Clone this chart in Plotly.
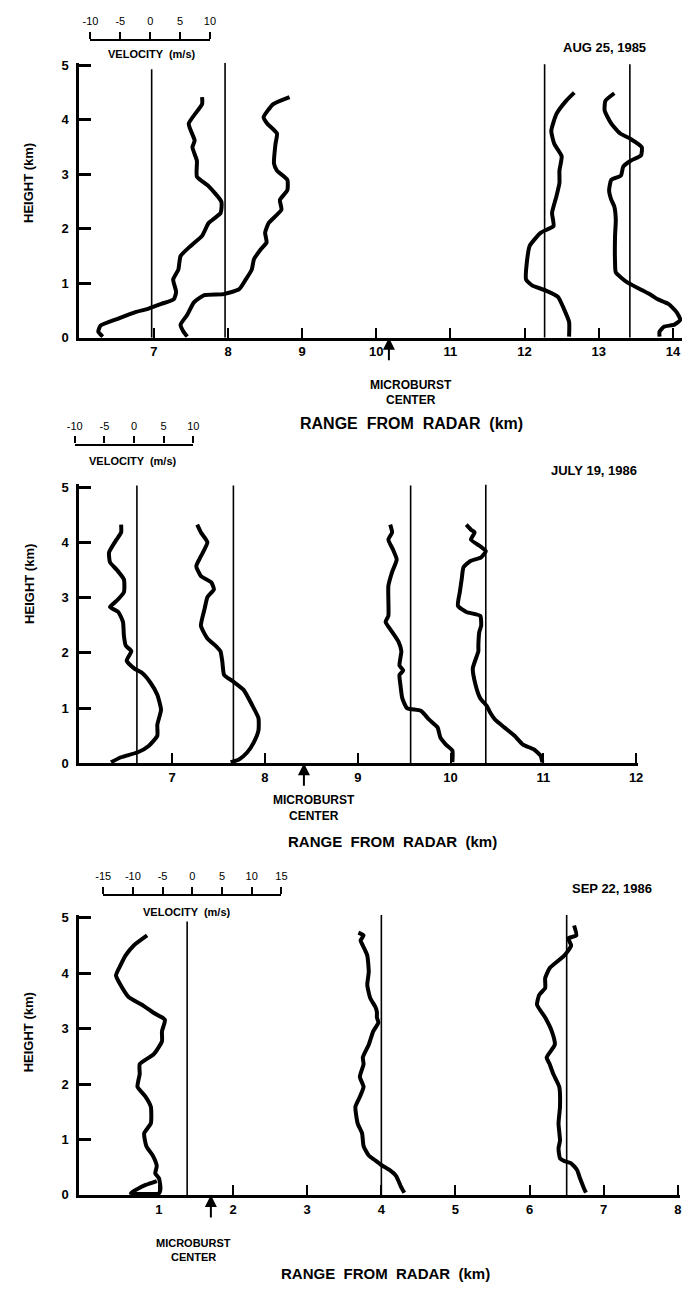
import plotly.graph_objects as go

# The page body keeps the browser's default 8 px margin, so the figure is
# drawn 8 px in from the top-left corner of the window.
OFF = 8
W, H = 690 - OFF, 1292 - OFF

# ---------------- DATA ----------------
# Panel 1: AUG 25, 1985  (range from radar in km, height in km)
p1_date = "AUG 25, 1985"
p1_xticks = [7, 8, 9, 10, 11, 12, 13, 14]
p1_yticks = [0, 1, 2, 3, 4, 5]
p1_vel_ticks = [-10, -5, 0, 5, 10]
p1_refs = [6.97, 7.96, 12.27, 13.42]
p1_ref_tops = [4.93, 5.05, 5.02, 5.02]
p1_center = 10.17

p1_h_a = [4.42, 4.29, 3.93, 3.62, 3.50, 3.25, 2.96, 2.78, 2.50, 2.29, 2.11, 1.87, 1.69, 1.50, 1.25, 1.07, 0.84, 0.71, 0.62, 0.53, 0.47, 0.35, 0.22, 0.11, 0.02]
p1_r_a = [7.65, 7.65, 7.47, 7.55, 7.52, 7.58, 7.58, 7.74, 7.91, 7.90, 7.74, 7.65, 7.50, 7.36, 7.33, 7.26, 7.30, 7.27, 7.10, 6.92, 6.75, 6.52, 6.28, 6.25, 6.31]
p1_h_b = [4.42, 4.29, 4.05, 3.93, 3.75, 3.56, 3.20, 3.07, 2.90, 2.71, 2.53, 2.35, 2.11, 1.93, 1.75, 1.62, 1.44, 1.25, 1.07, 0.89, 0.80, 0.78, 0.65, 0.42, 0.24, 0.11, 0.02]
p1_r_b = [8.83, 8.61, 8.48, 8.53, 8.66, 8.64, 8.62, 8.66, 8.80, 8.80, 8.70, 8.72, 8.55, 8.50, 8.52, 8.44, 8.35, 8.32, 8.24, 8.15, 7.94, 7.68, 7.54, 7.45, 7.36, 7.40, 7.45]
p1_h_c = [4.50, 4.35, 4.11, 3.80, 3.56, 3.33, 3.07, 2.84, 2.60, 2.29, 2.05, 1.93, 1.69, 1.38, 1.07, 0.96, 0.87, 0.75, 0.53, 0.29, 0.02]
p1_r_c = [12.67, 12.56, 12.43, 12.36, 12.40, 12.50, 12.47, 12.47, 12.43, 12.37, 12.39, 12.22, 12.07, 12.03, 12.02, 12.10, 12.28, 12.45, 12.53, 12.60, 12.60]
p1_h_d = [4.49, 4.35, 4.17, 3.93, 3.75, 3.65, 3.50, 3.35, 3.25, 3.14, 2.98, 2.90, 2.71, 2.53, 2.41, 2.16, 1.87, 1.38, 1.20, 1.02, 0.89, 0.78, 0.71, 0.62, 0.47, 0.33, 0.24, 0.20, 0.11, 0.02]
p1_r_d = [13.21, 13.09, 13.08, 13.17, 13.29, 13.43, 13.58, 13.57, 13.43, 13.33, 13.30, 13.17, 13.14, 13.17, 13.21, 13.23, 13.22, 13.22, 13.23, 13.38, 13.56, 13.71, 13.79, 13.94, 14.05, 14.10, 14.02, 13.88, 13.82, 13.82]

# Panel 2: JULY 19, 1986
p2_date = "JULY 19, 1986"
p2_xticks = [7, 8, 9, 10, 11, 12]
p2_yticks = [0, 1, 2, 3, 4, 5]
p2_vel_ticks = [-10, -5, 0, 5, 10]
p2_refs = [6.62, 7.66, 9.57, 10.38]
p2_ref_tops = [5.03, 5.03, 5.03, 5.05]
p2_center = 8.42

p2_h_a = [4.32, 4.18, 4.05, 3.82, 3.64, 3.51, 3.33, 3.10, 2.94, 2.83, 2.74, 2.56, 2.31, 2.13, 2.03, 1.86, 1.72, 1.63, 1.45, 1.24, 0.97, 0.70, 0.50, 0.32, 0.20, 0.11, 0.02]
p2_r_a = [6.45, 6.45, 6.40, 6.32, 6.33, 6.40, 6.48, 6.48, 6.40, 6.33, 6.42, 6.47, 6.48, 6.50, 6.56, 6.51, 6.59, 6.68, 6.77, 6.84, 6.88, 6.84, 6.84, 6.75, 6.63, 6.45, 6.34]
p2_h_b = [4.32, 4.18, 4.00, 3.75, 3.57, 3.39, 3.28, 3.15, 3.01, 2.80, 2.49, 2.26, 2.11, 2.03, 1.85, 1.60, 1.49, 1.33, 1.06, 0.82, 0.59, 0.38, 0.20, 0.07, 0.02]
p2_r_b = [7.27, 7.31, 7.38, 7.31, 7.26, 7.31, 7.42, 7.45, 7.38, 7.35, 7.31, 7.38, 7.48, 7.52, 7.54, 7.56, 7.65, 7.77, 7.86, 7.93, 7.93, 7.88, 7.81, 7.72, 7.63]
p2_h_c = [4.32, 4.18, 4.05, 3.87, 3.69, 3.46, 3.21, 2.97, 2.67, 2.56, 2.38, 2.20, 2.03, 1.77, 1.68, 1.60, 1.42, 1.18, 1.00, 0.95, 0.79, 0.65, 0.47, 0.34, 0.23, 0.02]
p2_r_c = [9.35, 9.37, 9.33, 9.38, 9.42, 9.37, 9.33, 9.33, 9.33, 9.30, 9.37, 9.44, 9.47, 9.45, 9.49, 9.45, 9.46, 9.48, 9.53, 9.68, 9.77, 9.86, 9.89, 9.95, 10.02, 10.02]
p2_h_d = [4.32, 4.23, 4.18, 4.05, 3.93, 3.84, 3.73, 3.66, 3.55, 3.33, 3.10, 2.85, 2.74, 2.67, 2.49, 2.38, 2.13, 2.03, 1.72, 1.42, 1.18, 1.04, 0.91, 0.79, 0.65, 0.50, 0.34, 0.25, 0.14, 0.02]
p2_r_d = [10.17, 10.22, 10.26, 10.22, 10.32, 10.38, 10.33, 10.21, 10.14, 10.12, 10.10, 10.08, 10.17, 10.32, 10.33, 10.31, 10.30, 10.30, 10.24, 10.27, 10.32, 10.39, 10.43, 10.48, 10.58, 10.69, 10.78, 10.90, 10.97, 10.99]

# Panel 3: SEP 22, 1986
p3_date = "SEP 22, 1986"
p3_xticks = [1, 2, 3, 4, 5, 6, 7, 8]
p3_yticks = [0, 1, 2, 3, 4, 5]
p3_vel_ticks = [-15, -10, -5, 0, 5, 10, 15]
p3_refs = [1.38, 4.00, 6.50]
p3_ref_tops = [4.93, 5.05, 5.05]
p3_center = 1.70

p3_h_a = [4.68, 4.50, 4.32, 4.14, 3.96, 3.79, 3.57, 3.43, 3.29, 3.16, 2.95, 2.77, 2.54, 2.36, 2.18, 1.95, 1.77, 1.59, 1.29, 1.11, 0.88, 0.70, 0.52, 0.39, 0.30, 0.12, 0.03, 0.03, 0.10, 0.18, 0.25]
p3_r_a = [0.84, 0.66, 0.55, 0.48, 0.42, 0.48, 0.59, 0.77, 0.92, 1.08, 1.04, 1.04, 0.93, 0.74, 0.74, 0.71, 0.82, 0.89, 0.89, 0.80, 0.83, 0.92, 0.97, 0.95, 1.00, 1.02, 1.00, 0.62, 0.70, 0.82, 0.97]
p3_h_b = [4.73, 4.68, 4.59, 4.50, 4.32, 4.02, 3.79, 3.55, 3.39, 3.30, 3.20, 3.11, 2.95, 2.71, 2.48, 2.36, 2.13, 1.95, 1.77, 1.59, 1.29, 1.11, 0.88, 0.71, 0.63, 0.54, 0.45, 0.34, 0.16, 0.04]
p3_r_b = [3.69, 3.76, 3.72, 3.75, 3.81, 3.83, 3.81, 3.85, 3.92, 3.94, 3.94, 3.96, 3.89, 3.83, 3.75, 3.76, 3.71, 3.76, 3.71, 3.65, 3.68, 3.74, 3.76, 3.83, 3.91, 4.00, 4.11, 4.20, 4.26, 4.31]
p3_h_c = [4.86, 4.68, 4.63, 4.50, 4.32, 4.23, 4.09, 3.91, 3.73, 3.61, 3.43, 3.20, 2.95, 2.71, 2.48, 2.36, 2.18, 1.95, 1.59, 1.29, 0.98, 0.84, 0.66, 0.61, 0.57, 0.45, 0.30, 0.13, 0.04]
p3_r_c = [6.60, 6.63, 6.52, 6.56, 6.47, 6.39, 6.27, 6.21, 6.21, 6.13, 6.10, 6.21, 6.30, 6.34, 6.23, 6.27, 6.32, 6.40, 6.41, 6.39, 6.41, 6.39, 6.41, 6.47, 6.56, 6.64, 6.68, 6.73, 6.76]

# ---------------- LAYOUT HELPERS ----------------
FONT = "Liberation Sans, Arial, sans-serif"


def fx(p):
    # window pixel -> paper fraction
    return (p - OFF) / W


def fy(p):
    return 1 - (p - OFF) / H


panels = [
    dict(n="", date=p1_date, xticks=p1_xticks, yticks=p1_yticks, vel=p1_vel_ticks,
         refs=p1_refs, tops=p1_ref_tops, center=p1_center,
         profiles=[(p1_r_a, p1_h_a), (p1_r_b, p1_h_b), (p1_r_c, p1_h_c), (p1_r_d, p1_h_d)],
         left=72.7, right=690, bottom=336, pxu=55.0, xrange=[5.995, 14.15],
         vbar=(84, 206, 36), vlabel=(147, 49), datepos=(609, 43),
         hpos=(21, 180), mb=(411, 384, 399), mbsize=12, rpos=(412, 423), rsize=16,
         arrow=24, vn="4"),
    dict(n="2", date=p2_date, xticks=p2_xticks, yticks=p2_yticks, vel=p2_vel_ticks,
         refs=p2_refs, tops=p2_ref_tops, center=p2_center,
         profiles=[(p2_r_a, p2_h_a), (p2_r_b, p2_h_b), (p2_r_c, p2_h_c), (p2_r_d, p2_h_d)],
         left=72.7, right=643, bottom=766, pxu=55.8, xrange=[6.0, 12.02],
         vbar=(68, 189, 445), vlabel=(127, 461), datepos=(598, 470),
         hpos=(21, 585), mb=(312, 803, 819), mbsize=12, rpos=(392, 845), rsize=15,
         arrow=24, vn="5"),
    dict(n="3", date=p3_date, xticks=p3_xticks, yticks=p3_yticks, vel=p3_vel_ticks,
         refs=p3_refs, tops=p3_ref_tops, center=p3_center,
         profiles=[(p3_r_a, p3_h_a), (p3_r_b, p3_h_b), (p3_r_c, p3_h_c)],
         left=72.7, right=686, bottom=1202, pxu=56.0, xrange=[-0.074, 8.03],
         vbar=(97, 279, 900), vlabel=(183, 916), datepos=(617, 892),
         hpos=(21, 1038), mb=(189, 1251, 1265), mbsize=11, rpos=(385, 1281), rsize=15,
         arrow=24, vn="6"),
]

YTOP = 5.05
fig = go.Figure()
annotations = []
layout = {}

bold = dict(family=FONT, color="black", weight="bold")


def label(text, x, y, size, angle=0, weight_bold=True):
    f = dict(size=size, **bold) if weight_bold else dict(size=size, family=FONT, color="black")
    return dict(text=text, x=fx(x), y=fy(y), xref="paper", yref="paper",
                xanchor="center", yanchor="middle", showarrow=False,
                textangle=angle, font=f)


for p in panels:
    xa, ya = "x" + p["n"], "y" + p["n"]
    xk, yk = "xaxis" + p["n"], "yaxis" + p["n"]
    top_px = p["bottom"] - YTOP * p["pxu"]
    layout[xk] = dict(
        domain=[fx(p["left"]), fx(p["right"])], range=p["xrange"], anchor=ya,
        tickvals=p["xticks"], ticks="inside", ticklen=10, tickwidth=1.6,
        tickcolor="black", showline=True, linewidth=3, linecolor="black",
        showgrid=False, zeroline=False, tickfont=dict(size=13, **bold),
        ticklabeloverflow="allow", fixedrange=True,
    )
    layout[yk] = dict(
        domain=[fy(p["bottom"]), fy(top_px)], range=[0, YTOP], anchor=xa,
        tickvals=p["yticks"], ticks="inside", ticklen=12, tickwidth=3,
        tickcolor="black", showline=True, linewidth=3, linecolor="black",
        showgrid=False, zeroline=False, tickfont=dict(size=13, **bold),
        ticklabelstandoff=5, ticklabeloverflow="allow", fixedrange=True,
    )
    # reference (zero-velocity) lines
    for r, t in zip(p["refs"], p["tops"]):
        fig.add_trace(go.Scatter(x=[r, r], y=[0, t], mode="lines",
                                 line=dict(color="black", width=1.6),
                                 xaxis=xa, yaxis=ya, hoverinfo="skip", showlegend=False))
    # velocity profiles
    for rr, hh in p["profiles"]:
        fig.add_trace(go.Scatter(x=rr, y=hh, mode="lines",
                                 line=dict(color="black", width=4, shape="spline", smoothing=0.5),
                                 xaxis=xa, yaxis=ya, hoverinfo="skip", showlegend=False,
                                 cliponaxis=False))
    # velocity scale bar as its own small axis
    vx0, vx1, vy = p["vbar"]
    vxa, vya = "x" + p["vn"], "y" + p["vn"]
    layout["xaxis" + p["vn"]] = dict(
        domain=[fx(vx0), fx(vx1)], range=[p["vel"][0], p["vel"][-1]], anchor=vya,
        side="top", tickvals=p["vel"], ticktext=[str(v) for v in p["vel"]],
        ticks="outside", ticklen=7, tickwidth=1.6,
        tickcolor="black", showline=True, linewidth=2.2, linecolor="black",
        showgrid=False, zeroline=False, tickfont=dict(size=11, family=FONT, color="black"),
        ticklabelstandoff=2, ticklabeloverflow="allow", fixedrange=True,
    )
    layout["yaxis" + p["vn"]] = dict(domain=[fy(vy + 1), fy(vy)], range=[0, 1],
                                     anchor=vxa, visible=False, fixedrange=True)
    fig.add_trace(go.Scatter(x=p["vel"], y=[0.5] * len(p["vel"]), mode="markers",
                             marker=dict(opacity=0), xaxis=vxa, yaxis=vya,
                             hoverinfo="skip", showlegend=False))
    # texts
    annotations.append(label("VELOCITY  (m/s)", p["vlabel"][0], p["vlabel"][1], 11))
    annotations.append(label(p["date"], p["datepos"][0], p["datepos"][1], 13))
    annotations.append(label("HEIGHT (km)", p["hpos"][0], p["hpos"][1], 13, angle=-90))
    annotations.append(dict(text="", x=p["center"], y=0, xref=xa, yref=ya,
                            ax=0, ay=p["arrow"], showarrow=True, arrowhead=2,
                            arrowsize=1.2, arrowwidth=2, arrowcolor="black"))
    annotations.append(label("MICROBURST", p["mb"][0], p["mb"][1], p["mbsize"]))
    annotations.append(label("CENTER", p["mb"][0], p["mb"][2], p["mbsize"]))
    annotations.append(label("RANGE  FROM  RADAR  (km)", p["rpos"][0], p["rpos"][1], p["rsize"]))

fig.update_layout(
    width=W, height=H, margin=dict(l=0, r=0, t=0, b=0),
    paper_bgcolor="white", plot_bgcolor="rgba(0,0,0,0)",
    showlegend=False, annotations=annotations, **layout,
)

fig.write_html("out.html")
